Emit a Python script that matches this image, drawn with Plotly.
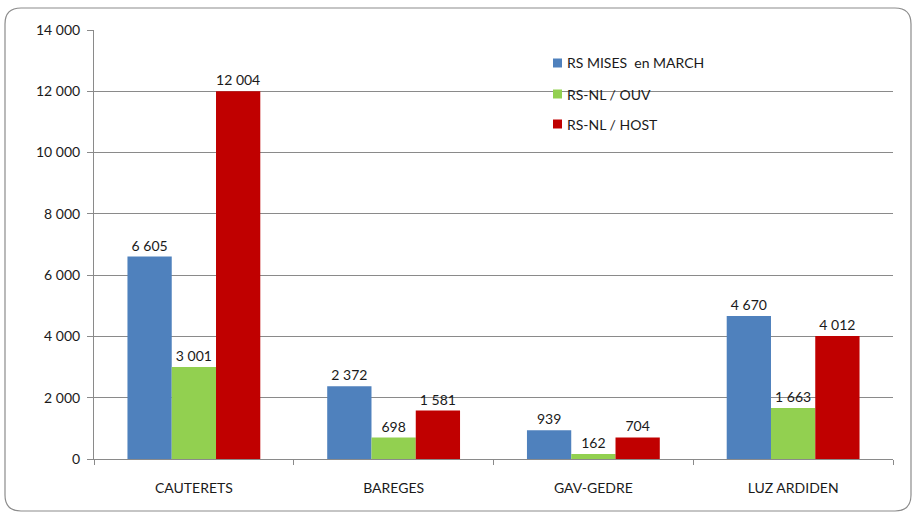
import plotly.graph_objects as go

categories = ["CAUTERETS", "BAREGES", "GAV-GEDRE", "LUZ ARDIDEN"]
series_names = ["RS MISES  en MARCH", "RS-NL / OUV", "RS-NL / HOST"]
rs_mises = [6605, 2372, 939, 4670]
rs_nl_ouv = [3001, 698, 162, 1663]
rs_nl_host = [12004, 1581, 704, 4012]
colors = ["#4F81BD", "#92D050", "#C00000"]
tick_vals = [0, 2000, 4000, 6000, 8000, 10000, 12000, 14000]

W, H = 914, 515
L, R, T, B = 94, 21, 30, 56
pw, ph = W - L - R, H - T - B
FONT = "Lato, Open Sans, Liberation Sans, sans-serif"
TXT = "#1a1a1a"

def px(x):
    return (x - L) / pw
def py(y):
    return (H - B - y) / ph

fig = go.Figure()
for i, (name, vals) in enumerate(zip(series_names, [rs_mises, rs_nl_ouv, rs_nl_host])):
    fig.add_trace(go.Bar(
        x=categories, y=vals, name=name, marker_color=colors[i],
        marker_line_width=0, showlegend=False,
        text=vals, texttemplate="%{y:,}", textposition="outside",
        textfont=dict(size=14, color=TXT, family=FONT), cliponaxis=False,
    ))

# legend (manual, to match spacing of the original)
shapes = []
annotations = []
leg_y = [63, 94, 124]
for i, name in enumerate(series_names):
    yc = leg_y[i]
    shapes.append(dict(type="rect", xref="paper", yref="paper",
                       x0=px(553), x1=px(562), y0=py(yc + 4.5), y1=py(yc - 4.5),
                       fillcolor=colors[i], line=dict(width=0)))
    annotations.append(dict(xref="paper", yref="paper", x=px(565), y=py(yc),
                            xanchor="left", yanchor="middle", showarrow=False,
                            text=name, font=dict(size=14, color=TXT, family=FONT)))

x0, x1, y0, y1 = 5, 911, 8, 511
r = 16
path = (f"M {px(x0+r)} {py(y0)} L {px(x1-r)} {py(y0)} Q {px(x1)} {py(y0)} {px(x1)} {py(y0+r)} "
        f"L {px(x1)} {py(y1-r)} Q {px(x1)} {py(y1)} {px(x1-r)} {py(y1)} "
        f"L {px(x0+r)} {py(y1)} Q {px(x0)} {py(y1)} {px(x0)} {py(y1-r)} "
        f"L {px(x0)} {py(y0+r)} Q {px(x0)} {py(y0)} {px(x0+r)} {py(y0)} Z")
shapes.append(dict(type="path", path=path, xref="paper", yref="paper",
                   line=dict(color="#8c8c8c", width=1.2), layer="below"))

fig.update_layout(
    width=W, height=H,
    margin=dict(l=L, r=R, t=T, b=B),
    paper_bgcolor="white", plot_bgcolor="white",
    separators=", ",
    font=dict(family=FONT, size=14, color=TXT),
    barmode="group", bargap=0.335, bargroupgap=0,
    shapes=shapes, annotations=annotations,
    showlegend=False,
)
fig.update_yaxes(range=[0, 14000], tickvals=tick_vals, tickformat=",",
                 showgrid=True, gridcolor="#8a8a8a", gridwidth=1,
                 showline=True, linecolor="#8a8a8a", linewidth=1,
                 ticks="outside", ticklen=6, tickcolor="#8a8a8a",
                 zeroline=False, tickfont=dict(size=14), ticklabelstandoff=4)
fig.update_xaxes(showline=True, linecolor="#8a8a8a", linewidth=1,
                 ticks="outside", tickson="boundaries", ticklen=5, tickcolor="#8a8a8a",
                 tickfont=dict(size=14), ticklabelstandoff=16)

fig.write_html("out.html", config={"displayModeBar": False},
               post_script="document.body.style.margin='0';")
